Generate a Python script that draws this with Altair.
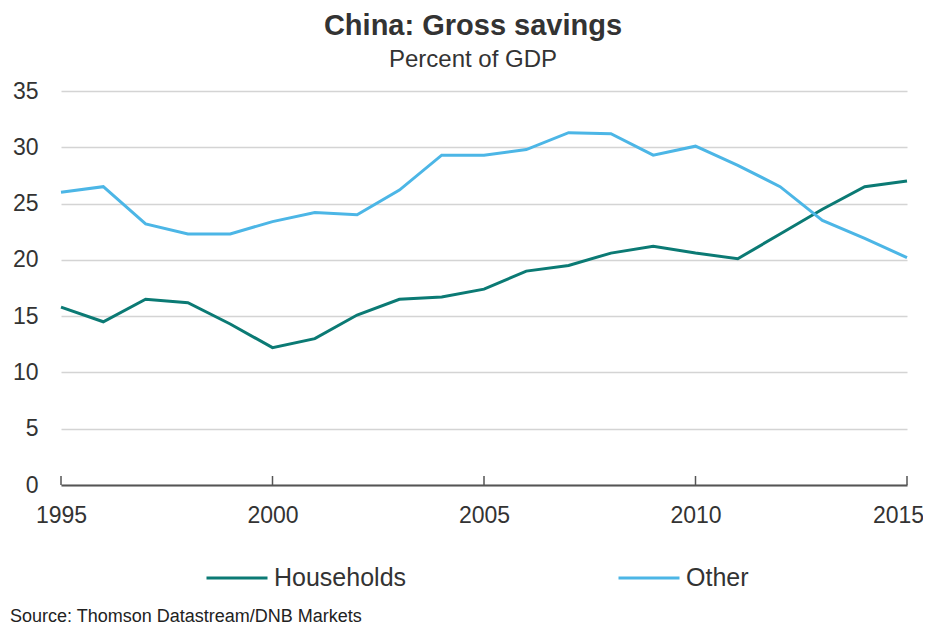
import altair as alt
import pandas as pd

years = list(range(1995, 2016))
households = [15.8, 14.5, 16.5, 16.2, 14.3, 12.2, 13.0, 15.1, 16.5, 16.7, 17.4, 19.0, 19.5, 20.6, 21.2, 20.6, 20.1, 22.3, 24.5, 26.5, 27.0]
other = [26.0, 26.5, 23.2, 22.3, 22.3, 23.4, 24.2, 24.0, 26.2, 29.3, 29.3, 29.8, 31.3, 31.2, 29.3, 30.1, 28.4, 26.5, 23.5, 21.9, 20.2]
series_names = ["Households", "Other"]
series_colors = ["#0b7a74", "#4cb6e6"]
x_ticks = [1995, 2000, 2005, 2010, 2015]
y_ticks = [0, 5, 10, 15, 20, 25, 30, 35]

rows = []
for i, y in enumerate(years):
    rows.append({"year": y, "series": "Households", "value": households[i]})
    rows.append({"year": y, "series": "Other", "value": other[i]})
df = pd.DataFrame(rows)
tick_df = pd.DataFrame({"year": x_ticks})

FONT = "Liberation Sans"

x_scale = alt.Scale(domain=[1995, 2015], nice=False, zero=False)
y_scale = alt.Scale(domain=[0, 35], nice=False)

lines = alt.Chart(df).mark_line(strokeWidth=3).encode(
    x=alt.X("year:Q", scale=x_scale, title=None,
            axis=alt.Axis(values=x_ticks, format="d", grid=False, ticks=False,
                          domainColor="#555555", domainWidth=2,
                          labelFontSize=23, labelColor="#333333", labelPadding=19,
                          labelFlush=False, labelOverlap=False, labelBound=False,
                          labelOffset={"condition": {"test": "datum.value == 2015", "value": -9},
                                       "value": 0},
                          labelFont=FONT)),
    y=alt.Y("value:Q", scale=y_scale, title=None,
            axis=alt.Axis(values=y_ticks, domain=False, ticks=False,
                          gridColor="#d4d4d4", gridWidth=1.5,
                          labelFontSize=23, labelColor="#333333", labelPadding=23,
                          labelFont=FONT)),
    color=alt.Color("series:N", scale=alt.Scale(domain=series_names, range=series_colors),
                    legend=alt.Legend(title=None, orient="none", legendX=144, legendY=455,
                                      direction="horizontal", symbolType="stroke",
                                      symbolSize=3721, symbolStrokeWidth=3,
                                      labelFontSize=25, labelFont=FONT, labelColor="#333333",
                                      labelOffset=5, columnPadding=205)),
)

ticks = alt.Chart(tick_df).mark_rule(color="#555555", strokeWidth=1.5).encode(
    x=alt.X("year:Q", scale=x_scale),
    y=alt.datum(0),
    y2=alt.datum(0.8),
)

source = alt.Chart(pd.DataFrame({"t": ["Source: Thomson Datastream/DNB Markets"]})).mark_text(
    align="left", baseline="alphabetic", fontSize=18, font=FONT, color="#222222"
).encode(text="t:N", x=alt.value(-51), y=alt.value(531))

chart = alt.layer(lines, ticks, source).properties(
    width=846, height=394,
    title=alt.TitleParams(
        text="China: Gross savings", subtitle="Percent of GDP",
        anchor="middle", frame="group", dx=-11,
        font=FONT, fontSize=29, fontWeight="bold", color="#333333",
        subtitleFont=FONT, subtitleFontSize=24, subtitleColor="#333333",
        subtitlePadding=7, offset=8,
    ),
    padding={"left": 53, "top": 83, "right": 16, "bottom": 140},
    autosize=alt.AutoSizeParams(type="none"),
).configure_view(stroke=None)

chart.save("out.html", embed_options={"renderer": "svg", "actions": False})
